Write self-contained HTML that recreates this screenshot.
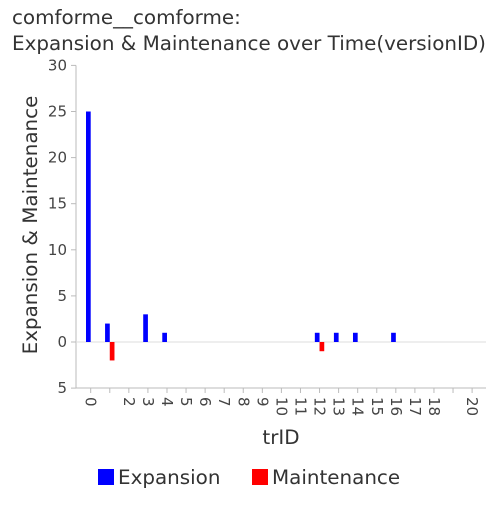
<!DOCTYPE html>
<html><head><meta charset="utf-8"><style>
body{margin:0;background:#fff;width:500px;height:500px;overflow:hidden}
svg text{font-family:"DejaVu Sans","Liberation Sans",sans-serif}
</style></head><body>
<svg id="chart" width="500" height="500">
<text x="12" y="24" font-size="19.9" fill="#333">comforme__comforme:</text>
<text x="12" y="50" font-size="19.9" fill="#333">Expansion &amp; Maintenance over Time(versionID)</text>
<text transform="translate(37,225) rotate(-90)" text-anchor="middle" font-size="19.9" fill="#333">Expansion &amp; Maintenance</text>
<text x="281" y="444" text-anchor="middle" font-size="19.9" fill="#333">trID</text>
<g>
<rect x="98" y="469" width="16" height="16" fill="#0000ff"/>
<text x="118" y="484" font-size="19.9" fill="#333">Expansion</text>
<rect x="252" y="469" width="16" height="16" fill="#ff0000"/>
<text x="272" y="484" font-size="19.9" fill="#333">Maintenance</text>
</g>
<g id="plot"></g>
</svg>
<script>
const xTicks=[0,1,2,3,4,5,6,7,8,9,10,11,12,13,14,15,16,17,18,19,20];
const xTickLabels=["0","","2","3","4","5","6","7","8","9","10","11","12","13","14","15","16","17","18","","20"];
const yTicks=[30,25,20,15,10,5,0,-5];
const yTickLabels=["30","25","20","15","10","5","0","5"];
const expansionX=[0,1,3,4,12,13,14,16];
const expansionY=[25,2,3,1,1,1,1,1];
const maintenanceX=[1,12];
const maintenanceY=[2,1];
const NS="http://www.w3.org/2000/svg";
const g=document.getElementById('plot');
const X0=90.7,DX=19.07,Y0=342,DY=9.22,AX=76,AR=486,AB=388;
const xs=v=>X0+v*DX, ys=v=>Y0-v*DY;
function mk(t,a){const e=document.createElementNS(NS,t);for(const k in a)e.setAttribute(k,a[k]);g.appendChild(e);return e;}
let e;
e=mk('line',{x1:AX,y1:ys(30),x2:AX,y2:AB,stroke:'#bbb'});


e=mk('line',{x1:AX,y1:AB,x2:AR,y2:AB,stroke:'#bbb'});


e=mk('line',{x1:AX,y1:ys(0),x2:AR,y2:ys(0),stroke:'#ddd'});


yTicks.forEach((v,i)=>{
 const t=mk('line',{x1:AX-5,x2:AX,y1:ys(v),y2:ys(v),stroke:'#bbb'});
 
 
 const l=mk('text',{x:AX-9,y:ys(v)+5,'text-anchor':'end','font-size':15,fill:'#444'});
 l.textContent=yTickLabels[i];
 
 
});
xTicks.forEach((v,i)=>{
 const t=mk('line',{x1:xs(v),x2:xs(v),y1:AB,y2:AB+5,stroke:'#bbb'});
 
 
 if(xTickLabels[i]){
  const l=mk('text',{transform:`translate(${xs(v)-5},${AB+9}) rotate(90)`,'font-size':15,fill:'#444'});
  l.textContent=xTickLabels[i];
  
  
 }
});
expansionX.forEach((x,i)=>{
 const b=mk('rect',{x:xs(x)-4.7,y:ys(expansionY[i]),width:4.7,height:ys(0)-ys(expansionY[i]),fill:'#0000ff'});
 
 
});
maintenanceX.forEach((x,i)=>{
 const b=mk('rect',{x:xs(x),y:ys(0),width:4.7,height:ys(-maintenanceY[i])-ys(0),fill:'#ff0000'});
 
 
});
</script>
</body></html>
